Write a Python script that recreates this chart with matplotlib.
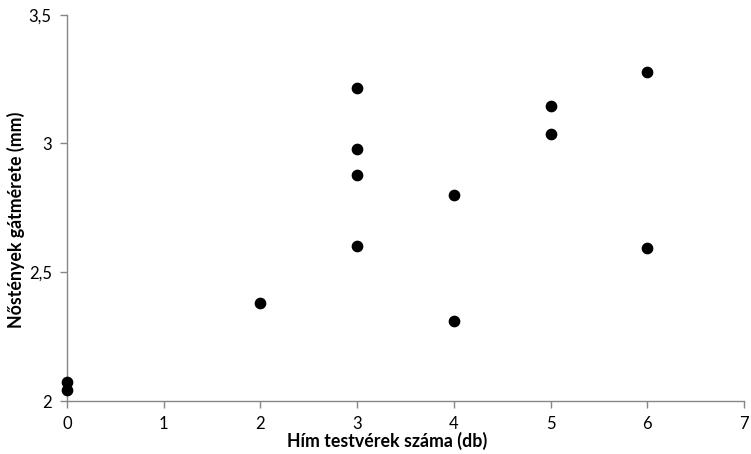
import matplotlib
matplotlib.use('Agg')
import matplotlib.pyplot as plt
from matplotlib.ticker import FuncFormatter

plt.rcParams['font.family'] = ['Lato', 'DejaVu Sans']

# Data
brothers = [0, 0, 2, 3, 3, 3, 3, 4, 4, 5, 5, 6, 6]
gap_size = [2.075, 2.043, 2.38, 3.217, 2.977, 2.877, 2.60, 2.80, 2.31, 3.147, 3.038, 3.278, 2.595]

x_ticks = [0, 1, 2, 3, 4, 5, 6, 7]
y_ticks = [2, 2.5, 3, 3.5]

fig = plt.figure(figsize=(7.51, 4.54), dpi=100)
ax = fig.add_axes([0.0892, 0.1167, 0.9015, 0.8509])

ax.scatter(brothers, gap_size, s=55, color='black', zorder=3, clip_on=False)

ax.set_xlim(0, 7)
ax.set_ylim(2, 3.5)
ax.set_xticks(x_ticks)
ax.set_yticks(y_ticks)
ax.yaxis.set_major_formatter(FuncFormatter(lambda v, p: ('%g' % v).replace('.', ',')))

for side in ['top', 'right']:
    ax.spines[side].set_visible(False)
for side in ['left', 'bottom']:
    ax.spines[side].set_color('#868686')
    ax.spines[side].set_linewidth(1.0)

ax.tick_params(direction='out', length=5, width=1, color='#868686',
               labelsize=12, labelcolor='black', pad=6)

ax.set_xlabel('Hím testvérek száma (db)', fontsize=12.8, fontweight='bold')
ax.xaxis.set_label_coords(0.473, -0.08)
ax.set_ylabel('Nőstények gátmérete (mm)', fontsize=12.8, fontweight='bold')
ax.yaxis.set_label_coords(-0.062, 0.469)

fig.savefig('out.png', dpi=100)
